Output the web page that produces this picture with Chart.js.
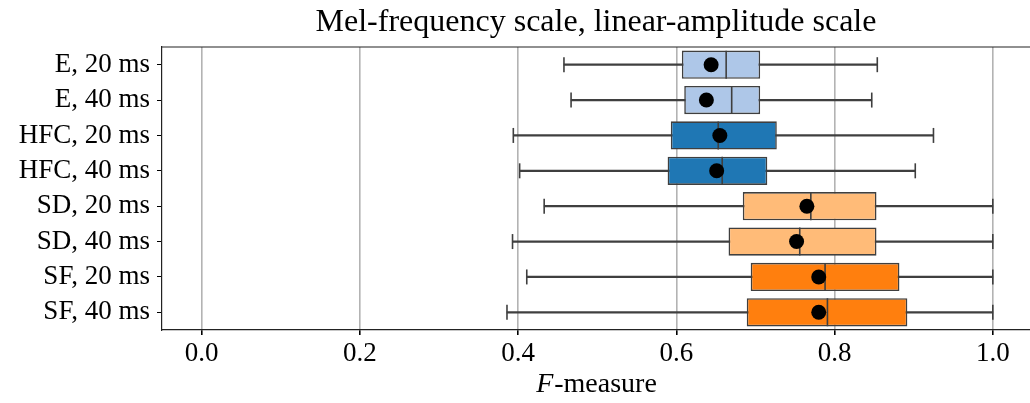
<!DOCTYPE html>
<html>
<head>
<meta charset="utf-8">
<script src="https://cdn.jsdelivr.net/npm/chart.js@4"></script>
<style>
  html, body { margin: 0; padding: 0; background: #fff; }
  #wrap { width: 1030px; height: 403px; }
</style>
</head>
<body>
<div id="wrap"><canvas id="boxChart" width="1030" height="403"></canvas></div>
<script>
// values
const labels = ['E, 20 ms', 'E, 40 ms', 'HFC, 20 ms', 'HFC, 40 ms', 'SD, 20 ms', 'SD, 40 ms', 'SF, 20 ms', 'SF, 40 ms'];
const whiskerLow  = [0.458, 0.467, 0.394, 0.402, 0.433, 0.393, 0.411, 0.386];
const q1          = [0.607, 0.610, 0.593, 0.589, 0.684, 0.666, 0.694, 0.689];
const median      = [0.663, 0.670, 0.653, 0.658, 0.770, 0.756, 0.788, 0.791];
const q3          = [0.706, 0.706, 0.727, 0.715, 0.853, 0.853, 0.882, 0.892];
const whiskerHigh = [0.854, 0.847, 0.925, 0.902, 1.0, 1.0, 1.0, 1.0];
const means       = [0.644, 0.638, 0.655, 0.651, 0.765, 0.752, 0.780, 0.780];
const boxColors   = ['#aec7e8', '#aec7e8', '#1f77b4', '#1f77b4', '#ffbb78', '#ffbb78', '#ff7f0e', '#ff7f0e'];
const xTicks = [0.0, 0.2, 0.4, 0.6, 0.8, 1.0];

const edge = '#3f3f3f';
const serif = "'Liberation Serif', serif";

Chart.defaults.font.family = serif;
Chart.defaults.color = '#000';

// top spine, plus the x label with an italic F
const extras = {
    id: 'extras',
    afterDatasetsDraw(chart) {
        const a = chart.chartArea;
        const c = chart.ctx;
        c.save();
        c.strokeStyle = '#222';
        c.lineWidth = 1.2;
        c.beginPath();
        c.moveTo(a.left, a.top);
        c.lineTo(a.right, a.top);
        c.stroke();
        c.restore();
    },
    afterDraw(chart) {
        const a = chart.chartArea;
        const c = chart.ctx;
        const xs = chart.scales.x;
        c.save();
        c.fillStyle = '#000';
        c.textBaseline = 'alphabetic';
        c.font = 'italic 28px ' + serif;
        const w1 = c.measureText('F').width;
        c.font = '28px ' + serif;
        const w2 = c.measureText('-measure').width;
        const x0 = (a.left + a.right) / 2 - (w1 + w2) / 2;
        const y = xs.bottom - 11;
        c.font = 'italic 28px ' + serif;
        c.fillText('F', x0, y);
        c.font = '28px ' + serif;
        c.fillText('-measure', x0 + w1 + 1, y);
        c.restore();
    }
};

const ctx = document.getElementById('boxChart').getContext('2d');

const chart = new Chart(ctx, {
    type: 'bar',
    data: {
        labels: labels,
        datasets: [
            {
                label: 'whiskers',
                data: labels.map((l, i) => [whiskerLow[i], whiskerHigh[i]]),
                backgroundColor: edge,
                borderWidth: 0,
                barThickness: 1.6,
                grouped: false,
                order: 5
            },
            {
                label: 'boxes',
                data: labels.map((l, i) => [q1[i], q3[i]]),
                backgroundColor: boxColors,
                borderColor: edge,
                borderWidth: 1.6,
                borderSkipped: false,
                barPercentage: 0.8,
                categoryPercentage: 1.0,
                grouped: false,
                order: 4
            },
            {
                type: 'scatter',
                label: 'medians',
                data: labels.map((l, i) => ({ x: median[i], y: l })),
                pointStyle: 'line',
                rotation: 90,
                radius: 14,
                borderColor: edge,
                borderWidth: 1.6,
                order: 3
            },
            {
                type: 'scatter',
                label: 'caps',
                data: labels.flatMap((l, i) => [{ x: whiskerLow[i], y: l }, { x: whiskerHigh[i], y: l }]),
                pointStyle: 'line',
                rotation: 90,
                radius: 7.5,
                borderColor: edge,
                borderWidth: 1.6,
                order: 2
            },
            {
                type: 'scatter',
                label: 'means',
                data: labels.map((l, i) => ({ x: means[i], y: l })),
                pointStyle: 'circle',
                radius: 7.5,
                backgroundColor: '#000',
                borderWidth: 0,
                order: 1
            }
        ]
    },
    options: {
        indexAxis: 'y',
        responsive: false,
        animation: false,
        layout: { padding: 0, autoPadding: false },
        plugins: {
            legend: { display: false },
            tooltip: { enabled: false },
            title: {
                display: true,
                text: 'Mel-frequency scale, linear-amplitude scale',
                fullSize: false,
                font: { size: 32, weight: 'normal' },
                color: '#000',
                padding: { top: 3, bottom: 5.6 }
            }
        },
        scales: {
            x: {
                type: 'linear',
                min: -0.05,
                max: 1.047,
                afterBuildTicks: s => { s.ticks = xTicks.map(v => ({ value: v })); },
                afterFit: s => { s.height = 73; s.paddingLeft = 0; s.paddingRight = 0; },
                ticks: {
                    font: { size: 27 },
                    padding: 3,
                    callback: v => v.toFixed(1)
                },
                grid: { color: '#b3b3b3', lineWidth: 1.6, tickColor: '#000', tickLength: 5 },
                border: { color: '#222', width: 1.2 },
                title: { display: false }
            },
            y: {
                type: 'category',
                afterFit: s => { s.width = 162; },
                ticks: { font: { size: 27 }, padding: 7, autoSkip: false },
                grid: { drawOnChartArea: false, offset: false, tickColor: '#000', tickLength: 5 },
                border: { color: '#222', width: 1.2 }
            }
        }
    },
    plugins: [extras]
});
</script>
</body>
</html>
